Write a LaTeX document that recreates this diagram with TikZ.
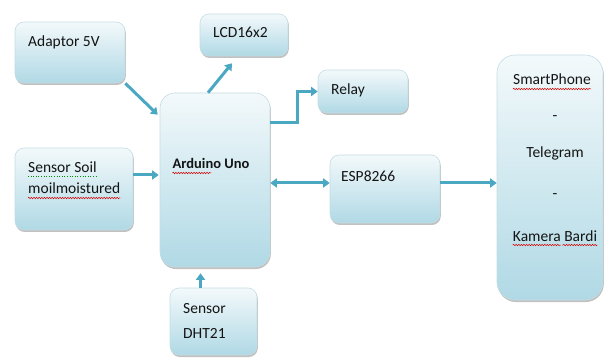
\documentclass[tikz,border=0pt]{standalone}
\usepackage{fontspec}
\setmainfont{Carlito}
\usetikzlibrary{arrows.meta,shadows,calc,decorations.pathmorphing}
\definecolor{arrowc}{RGB}{75,168,194}
\definecolor{boxtop}{RGB}{243,249,251}
\definecolor{boxbot}{RGB}{176,217,229}
\definecolor{boxline}{RGB}{196,220,228}
\definecolor{txt}{RGB}{20,20,20}
\begin{document}
\begin{tikzpicture}[x=1pt,y=-1pt,
  box/.style={draw=boxline, line width=0.6pt, rounded corners=9pt, top color=boxtop, bottom color=boxbot,
    drop shadow={shadow xshift=0.8pt, shadow yshift=-2pt, opacity=0.35, fill=black!70}, inner sep=0pt},
  bigbox/.style={box, rounded corners=15pt},
  lbl/.style={anchor=base west, inner sep=0pt, font=\fontsize{15.5}{18}\selectfont, text=txt},
  clbl/.style={lbl, anchor=base},
  conn/.style={draw=arrowc, line width=3pt, -{Triangle[length=6.5pt,width=9pt]}},
  conntwo/.style={draw=arrowc, line width=3pt, {Triangle[length=6.5pt,width=9pt]}-{Triangle[length=6.5pt,width=9pt]}},
  wavy/.style={draw=red!85!black, line width=0.5pt, decorate, decoration={snake, segment length=2.6pt, amplitude=0.7pt}},
  greendot/.style={draw=green!55!black, line width=0.6pt, dotted}
]
\useasboundingbox (0,0) rectangle (605,358);

% boxes
\node[box, minimum width=110pt, minimum height=61pt] (adaptor) at (70,52.5) {};
\node[box, minimum width=88pt, minimum height=42pt] (lcd) at (244,35) {};
\node[bigbox, minimum width=110pt, minimum height=174pt] (arduino) at (215,180) {};
\node[box, minimum width=118pt, minimum height=82pt] (soil) at (74,189) {};
\node[box, minimum width=87pt, minimum height=67pt] (dht) at (213.5,321.5) {};
\node[box, minimum width=90pt, minimum height=43pt] (relay) at (363,91.5) {};
\node[box, minimum width=110pt, minimum height=68pt] (esp) at (385,189) {};
\node[box, rounded corners=18pt, minimum width=106pt, minimum height=245pt] (phone) at (550,177.5) {};

% texts
\node[lbl] (tadaptor) at (28,47) {Adaptor 5V};
\node[lbl] (tlcd) at (213,38) {LCD16x2};
\node[clbl, font=\bfseries\fontsize{14.5}{17}\selectfont] (tard) at (211,169) {Arduino Uno};
\node[lbl] (tsoil) at (28,173) {Sensor Soil};
\node[lbl] (tmoil) at (28,194) {moilmoistured};
\node[lbl] (trelay) at (331,95) {Relay};
\node[lbl] (tesp) at (341,182) {ESP8266};
\node[lbl] (tsensor) at (183,313) {Sensor};
\node[lbl] (tdht) at (183,338) {DHT21};
\node[clbl] (tsp) at (552,85) {SmartPhone};
\node[clbl] (tdash1) at (555,121) {-};
\node[clbl] (ttele) at (555,158) {Telegram};
\node[clbl] (tdash2) at (555,199) {-};
\node[clbl] (tkam) at (555,241) {Kamera Bardi};

% spell-check underlines
\draw[wavy] ($(tard.base west)+(0,4)$) -- ++(39,0);
\draw[wavy] ($(tmoil.base west)+(0,4)$) -- ($(tmoil.base east)+(0,4)$);
\draw[wavy] ($(tsp.base west)+(0,4)$) -- ($(tsp.base east)+(0,4)$);
\draw[wavy] ($(tkam.base west)+(0,4)$) -- ++(48,0);
\draw[wavy] ($(tkam.base east)+(0,4)$) -- ++(-35,0);
\draw[greendot] ($(tsoil.base west)+(0,3.5)$) -- ($(tsoil.base east)+(0,3.5)$);

% connectors
\coordinate (ardA) at ($(arduino.north west)+(-2,22)$);
\draw[conn] (adaptor.south east) -- (ardA);
\draw[conn] ($(arduino.north)+(-7,0)$) -- ($(lcd.south)+(-12,7)$);
\draw[conn] ($(arduino.north east)+(0,30)$) -- ++(27,0) |- (relay.west);
\coordinate (s1) at ($(soil.east)+(0,-14)$);
\draw[conn] (s1) -- ($(s1 -| arduino.west)+(-1,0)$);
\coordinate (e1) at ($(esp.west)+(0,-6)$);
\draw[conntwo] (e1 -| arduino.east) -- (e1);
\coordinate (e2) at ($(esp.east)+(0,-6)$);
\draw[conn] (e2) -- (e2 -| phone.west);
\coordinate (d1) at ($(dht.north)+(-13,0)$);
\draw[conn] (d1) -- ($(d1 |- arduino.south)+(0,6)$);
\end{tikzpicture}
\end{document}
